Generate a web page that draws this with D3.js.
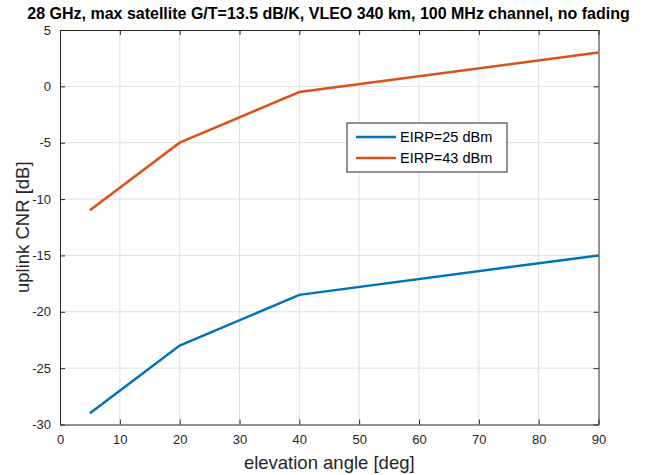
<!DOCTYPE html>
<html>
<head>
<meta charset="utf-8">
<script src="https://cdn.jsdelivr.net/npm/d3@7"></script>
<style>
  body { margin: 0; background: #fff; }
  text { font-family: "Liberation Sans", Arial, sans-serif; }
</style>
</head>
<body>
<svg id="chart" width="650" height="475"></svg>
<script>
// elevation angle [deg] and uplink CNR [dB]
const elevation = [5, 20, 40, 90];
const cnrLow = [-29, -23, -18.5, -15];   // EIRP=25 dBm
const cnrHigh = [-11, -5, -0.5, 3];      // EIRP=43 dBm
const seriesNames = ['EIRP=25 dBm', 'EIRP=43 dBm'];
const seriesColors = ['#0072BD', '#D95319'];
const xTicks = [0, 10, 20, 30, 40, 50, 60, 70, 80, 90];
const yTicks = [-30, -25, -20, -15, -10, -5, 0, 5];

const svg = d3.select('#chart');
const L = 60, R = 598.5, T = 30, B = 424.5;
const x = d3.scaleLinear().domain([0, 90]).range([L, R]);
const y = d3.scaleLinear().domain([-30, 5]).range([B, T]);
const ink = '#262626';
const fmt = d => String(d);

// grid
svg.append('g').selectAll('line').data(xTicks.slice(1, -1)).join('line')
  .attr('x1', d => x(d)).attr('x2', d => x(d)).attr('y1', T).attr('y2', B)
  .attr('stroke', '#e0e0e0').attr('stroke-width', 1);
svg.append('g').selectAll('line').data(yTicks.slice(1, -1)).join('line')
  .attr('y1', d => y(d)).attr('y2', d => y(d)).attr('x1', L).attr('x2', R)
  .attr('stroke', '#e0e0e0').attr('stroke-width', 1);

// axes (ticks inward, box)
const ax = (g, axis) => g.call(axis).call(s => s.select('.domain').attr('stroke', ink))
  .call(s => s.selectAll('.tick line').attr('stroke', ink))
  .call(s => s.selectAll('.tick text').attr('fill', ink).attr('font-size', 13));
svg.append('g').attr('transform', `translate(0,${B})`)
  .call(g => ax(g, d3.axisBottom(x).tickValues(xTicks).tickFormat(fmt).tickSizeInner(-5).tickSizeOuter(0).tickPadding(10)));
svg.append('g').attr('transform', `translate(${L},0)`)
  .call(g => ax(g, d3.axisLeft(y).tickValues(yTicks).tickFormat(fmt).tickSizeInner(-5).tickSizeOuter(0).tickPadding(9)));
svg.append('g').attr('transform', `translate(0,${T})`)
  .call(g => ax(g, d3.axisTop(x).tickValues(xTicks).tickSizeInner(-5).tickSizeOuter(0).tickFormat('')));
svg.append('g').attr('transform', `translate(${R},0)`)
  .call(g => ax(g, d3.axisRight(y).tickValues(yTicks).tickSizeInner(-5).tickSizeOuter(0).tickFormat('')));

// lines
const line = d3.line().x((d, i) => x(elevation[i])).y(d => y(d));
[cnrLow, cnrHigh].forEach((s, k) => {
  svg.append('path').attr('d', line(s)).attr('fill', 'none')
    .attr('stroke', seriesColors[k]).attr('stroke-width', 2.5);
});

// labels
svg.append('text').attr('x', 328.5).attr('y', 19).attr('text-anchor', 'middle')
  .attr('font-size', 16).attr('font-weight', 'bold').attr('fill', '#000')
  .text('28 GHz, max satellite G/T=13.5 dB/K, VLEO 340 km, 100 MHz channel, no fading');
svg.append('text').attr('x', (L + R) / 2).attr('y', 469).attr('text-anchor', 'middle')
  .attr('font-size', 18.5).attr('fill', ink).text('elevation angle [deg]');
svg.append('text').attr('transform', `translate(29,${(T + B) / 2}) rotate(-90)`)
  .attr('text-anchor', 'middle').attr('font-size', 18.5).attr('fill', ink).text('uplink CNR [dB]');

// legend
const lg = svg.append('g').attr('transform', 'translate(347,123)');
lg.append('rect').attr('width', 160).attr('height', 49).attr('fill', '#fff').attr('stroke', ink).attr('stroke-width', 1);
seriesNames.forEach((n, k) => {
  const yy = 14 + k * 21;
  lg.append('line').attr('x1', 9).attr('x2', 49).attr('y1', yy).attr('y2', yy)
    .attr('stroke', seriesColors[k]).attr('stroke-width', 2.5);
  lg.append('text').attr('x', 53).attr('y', yy + 5).attr('font-size', 14.5).attr('fill', '#000').text(n);
});
</script>
</body>
</html>
